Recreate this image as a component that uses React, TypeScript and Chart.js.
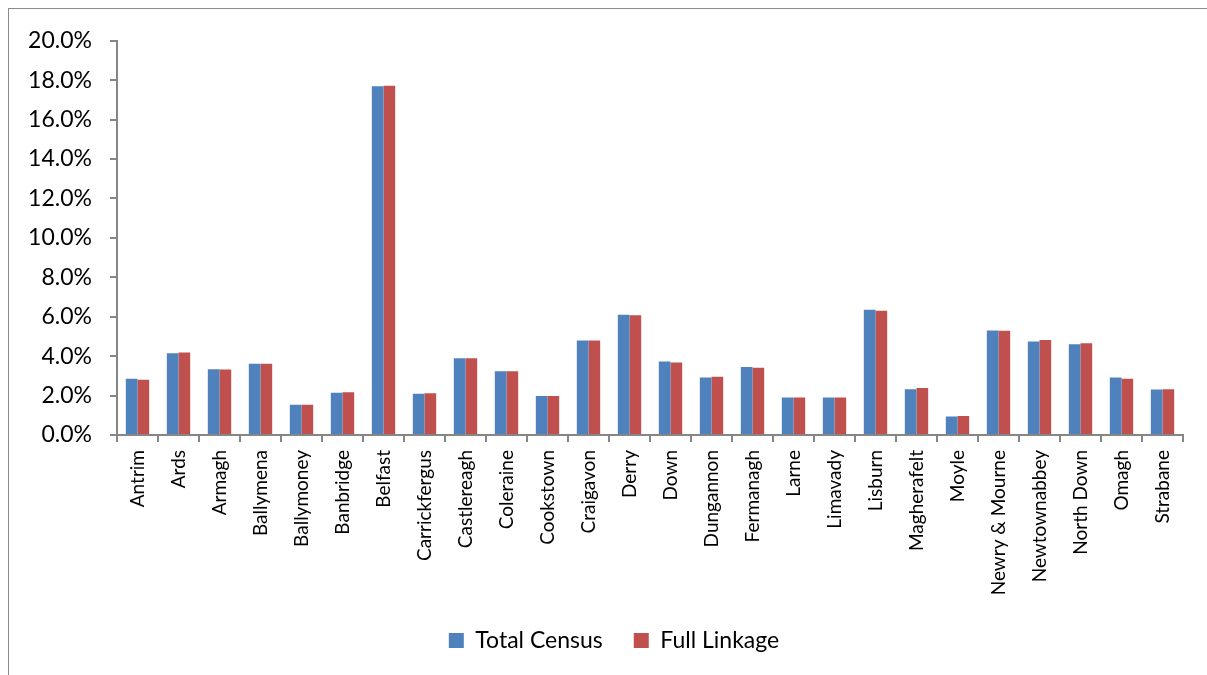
import React, { useEffect, useRef } from 'react';
import { Chart, registerables } from 'chart.js';

Chart.register(...registerables);

// Districts, in chart order
const districts = [
  'Antrim', 'Ards', 'Armagh', 'Ballymena', 'Ballymoney', 'Banbridge', 'Belfast',
  'Carrickfergus', 'Castlereagh', 'Coleraine', 'Cookstown', 'Craigavon', 'Derry',
  'Down', 'Dungannon', 'Fermanagh', 'Larne', 'Limavady', 'Lisburn', 'Magherafelt',
  'Moyle', 'Newry & Mourne', 'Newtownabbey', 'North Down', 'Omagh', 'Strabane',
];

// Share of population, percent
const totalCensus = [
  2.85, 4.15, 3.33, 3.62, 1.54, 2.14, 17.7, 2.09, 3.9, 3.23, 1.98, 4.8, 6.1,
  3.73, 2.92, 3.45, 1.9, 1.9, 6.36, 2.32, 0.94, 5.3, 4.75, 4.6, 2.92, 2.31,
];
const fullLinkage = [
  2.8, 4.18, 3.32, 3.61, 1.54, 2.17, 17.72, 2.12, 3.9, 3.23, 1.98, 4.8, 6.08,
  3.68, 2.96, 3.41, 1.9, 1.9, 6.3, 2.38, 0.96, 5.29, 4.82, 4.66, 2.86, 2.32,
];

const seriesNames = ['Total Census', 'Full Linkage'];
const seriesColors = ['#4F81BD', '#C0504D'];

const FONT = 'Lato, "Open Sans", sans-serif';
const AXIS_GREY = '#868686';

// the original legend sits a little right of the canvas centre
const legendShift = {
  id: 'legendShift',
  afterLayout(chart: any) {
    const legend = chart.legend;
    if (!legend) return;
    legend.left += 18;
    legend.right += 18;
  },
};

const App: React.FC = () => {
  const chartRef = useRef<HTMLCanvasElement | null>(null);
  const chartInstance = useRef<Chart | null>(null);

  useEffect(() => {
    if (!chartRef.current) return;
    const ctx = chartRef.current.getContext('2d');
    if (!ctx) return;

    chartInstance.current = new Chart(ctx, {
      type: 'bar',
      data: {
        labels: districts,
        datasets: [
          {
            label: seriesNames[0],
            data: totalCensus,
            backgroundColor: seriesColors[0],
            borderWidth: 0,
          },
          {
            label: seriesNames[1],
            data: fullLinkage,
            backgroundColor: seriesColors[1],
            borderWidth: 0,
          },
        ],
      },
      options: {
        responsive: false,
        animation: false,
        datasets: {
          bar: {
            barPercentage: 1.0,
            categoryPercentage: 0.57,
          },
        },
        layout: {
          padding: { left: 0, right: 24, top: 27, bottom: 13 },
        },
        plugins: {
          title: { display: false },
          tooltip: { enabled: false },
          legend: {
            position: 'bottom',
            labels: {
              color: '#000',
              boxWidth: 15,
              boxHeight: 15,
              padding: 31,
              font: { family: FONT, size: 23 },
            },
          },
        },
        scales: {
          x: {
            afterFit: (scale: any) => {
              scale.height = 163;
            },
            grid: {
              offset: true,
              drawOnChartArea: false,
              drawTicks: true,
              tickLength: 7,
              color: AXIS_GREY,
              lineWidth: 2,
            },
            border: { color: AXIS_GREY, width: 2 },
            ticks: {
              color: '#000',
              autoSkip: false,
              minRotation: 90,
              maxRotation: 90,
              padding: 8,
              font: { family: FONT, size: 19 },
            },
          },
          y: {
            min: 0,
            max: 20,
            afterFit: (scale: any) => {
              scale.width = 108;
            },
            grid: {
              display: true,
              drawOnChartArea: false,
              drawTicks: true,
              tickLength: 7,
              color: AXIS_GREY,
              lineWidth: 2,
            },
            border: { color: AXIS_GREY, width: 2 },
            ticks: {
              stepSize: 2,
              color: '#000',
              padding: 18,
              font: { family: FONT, size: 23 },
              callback: (value: any) => Number(value).toFixed(1) + '%',
            },
          },
        },
      },
      plugins: [legendShift],
    });

    return () => {
      if (chartInstance.current) {
        chartInstance.current.destroy();
        chartInstance.current = null;
      }
    };
  }, []);

  return (
    <div
      style={{
        position: 'absolute',
        left: 8,
        top: 8,
        width: 1199,
        height: 667,
        borderTop: '1px solid #8c8c8c',
        borderLeft: '1px solid #8c8c8c',
        background: '#fff',
        boxSizing: 'border-box',
        overflow: 'hidden',
      }}
    >
      <canvas ref={chartRef} width={1198} height={666} style={{ display: 'block', width: 1198, height: 666 }} />
    </div>
  );
};

export default App;
